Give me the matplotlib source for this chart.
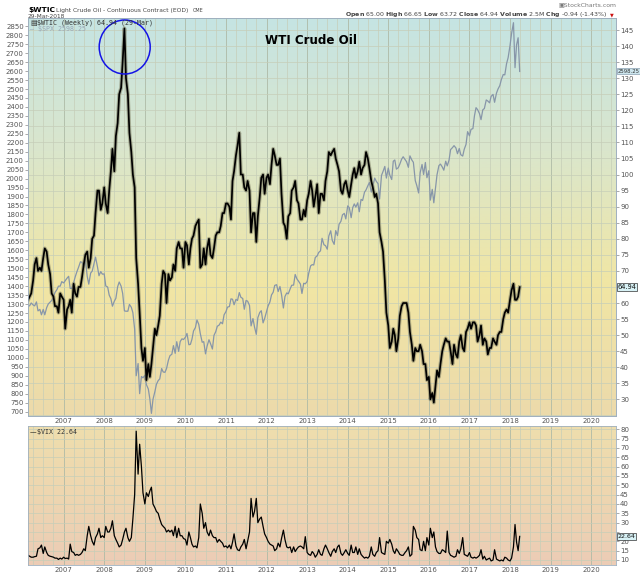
import numpy as np
import pandas as pd
import matplotlib
matplotlib.use('Agg')
import matplotlib.pyplot as plt
import matplotlib.dates as mdates
from matplotlib.colors import LinearSegmentedColormap
from matplotlib.patches import Ellipse
from matplotlib.ticker import FuncFormatter
from matplotlib.transforms import blended_transform_factory

# semi-monthly closes (1st / 15th of month), 15-Feb-2006 .. 29-Mar-2018
wtic = [
    61, 62, 63, 67, 72, 74, 70, 71, 70, 74, 77, 76, 72, 69, 63, 62, 59, 59, 57, 63, 62,  # 2006
    61, 52, 58, 59, 61, 57, 66, 63, 62, 65, 65, 68, 72, 75, 76, 71, 74, 80, 81, 88, 95, 95, 89, 91,  # 2007
    96, 91, 88, 95, 101, 108, 101, 112, 116, 125, 127, 135, 145.5, 130, 125, 113, 107, 100, 96, 74, 66, 57, 46, 42,
    46, 36, 41, 37, 41, 46, 52, 50, 53, 56, 66, 70, 69, 60, 69, 67, 68, 72, 70, 77, 79, 77, 77, 71,
    79, 78, 72, 77, 80, 81, 84, 85, 86, 71, 72, 77, 72, 77, 80, 75, 74, 77, 81, 82, 82, 84, 88, 88,
    91, 91, 90, 86, 98, 101, 106, 109, 113, 100, 100, 96, 95, 98, 95, 82, 88, 88, 79, 87, 93, 99, 100, 94,
    99, 100, 97, 103, 108, 106, 103, 103, 105, 94, 85, 84, 80, 87, 88, 95, 96, 98, 92, 91, 86, 86, 89, 87,
    92, 94, 98, 95, 90, 93, 97, 88, 94, 94, 92, 98, 101, 107, 106, 107, 108, 105, 103, 101, 95, 94, 97, 98,
    95, 93, 97, 100, 102, 99, 101, 104, 100, 102, 103, 107, 105, 102, 98, 96, 93, 94, 91, 82, 79, 76, 67, 57,
    53, 46, 48, 52, 50, 45, 49, 56, 59, 60, 60, 60, 57, 51, 47, 42, 46, 45, 45, 47, 45, 41, 41, 36,
    37, 30, 32, 29, 34, 39, 37, 41, 45, 47, 49, 48, 48, 45, 41, 47, 44, 43, 48, 50, 46, 45, 51, 52,
    54, 52, 54, 54, 53, 48, 50, 53, 47, 49, 48, 44, 46, 46, 49, 48, 47, 50, 51, 51, 55, 57, 58, 57,
    61, 64, 66, 61, 61, 62, 64.94,  # 2018
]

spx = [
    1287, 1291, 1306, 1295, 1290, 1312, 1262, 1270, 1240, 1270, 1240, 1280, 1300, 1311, 1320, 1340, 1365, 1380, 1400, 1400, 1425,
    1418, 1430, 1445, 1455, 1387, 1387, 1420, 1452, 1482, 1505, 1536, 1533, 1503, 1552, 1455, 1411, 1473, 1484, 1527, 1562, 1509, 1458, 1481, 1467,
    1468, 1401, 1395, 1350, 1330, 1288, 1316, 1332, 1397, 1423, 1400, 1360, 1262, 1260, 1260, 1298, 1282, 1252, 1160, 900, 968, 800, 896, 888,
    903, 850, 826, 770, 690, 768, 811, 852, 873, 882, 940, 921, 919, 940, 987, 1012, 1020, 1068, 1025, 1090, 1036, 1091, 1106, 1102,
    1115, 1136, 1073, 1075, 1104, 1150, 1169, 1211, 1187, 1135, 1087, 1090, 1022, 1065, 1101, 1079, 1049, 1125, 1146, 1176, 1183, 1199, 1190, 1240,
    1258, 1283, 1286, 1329, 1327, 1296, 1326, 1320, 1364, 1338, 1331, 1271, 1320, 1316, 1292, 1178, 1219, 1172, 1131, 1224, 1253, 1263, 1195, 1219,
    1258, 1289, 1312, 1351, 1366, 1404, 1408, 1370, 1398, 1353, 1278, 1342, 1362, 1357, 1385, 1405, 1406, 1465, 1440, 1428, 1412, 1359, 1416, 1413,
    1426, 1472, 1513, 1520, 1518, 1560, 1569, 1588, 1597, 1667, 1631, 1626, 1606, 1680, 1709, 1655, 1633, 1710, 1682, 1745, 1762, 1798, 1806, 1775,
    1848, 1838, 1782, 1838, 1859, 1841, 1865, 1815, 1884, 1878, 1924, 1937, 1960, 1978, 1925, 1955, 2003, 1985, 1972, 1886, 2018, 2040, 2068, 2003,
    2059, 2019, 1995, 2097, 2104, 2053, 2061, 2081, 2108, 2122, 2107, 2094, 2063, 2127, 2104, 2091, 1989, 1961, 1920, 2033, 2079, 2023, 2090, 2005,
    2044, 1880, 1940, 1865, 1948, 2022, 2073, 2081, 2065, 2047, 2097, 2071, 2103, 2162, 2173, 2184, 2171, 2139, 2168, 2133, 2126, 2164, 2191, 2262,
    2239, 2275, 2279, 2351, 2396, 2385, 2363, 2329, 2384, 2391, 2439, 2433, 2423, 2459, 2470, 2426, 2477, 2500, 2519, 2553, 2581, 2579, 2642, 2675,
    2743, 2810, 2870, 2619, 2747, 2786, 2598,
]

vix = [
    12.5, 12, 11.5, 11.5, 11.8, 12, 16, 16.5, 18, 13.5, 17, 14, 12.5, 12, 11.8, 11.5, 11, 11, 10.3, 11, 10.5,
    11.5, 10.8, 11, 10.5, 18.5, 14.5, 14, 12.5, 13, 12.5, 13, 14, 16, 15, 23, 28, 23, 20, 18, 22, 24, 27, 22, 23,
    22, 28, 25, 25, 27, 31, 23, 21, 19, 17, 18, 21, 25, 27, 22, 20, 22, 32, 45, 79, 56, 72, 60, 46,
    40, 46, 44, 47, 49, 40, 38, 36, 35, 32, 29, 28, 27, 25, 26, 25, 26, 23, 28, 22, 27, 23, 23, 21.5,
    21, 18, 25, 22, 18.5, 17, 17.5, 16.5, 22, 40, 35, 27, 30, 25, 23, 26, 23, 22, 22, 19.5, 21, 20, 19, 17,
    17.5, 16.5, 18, 16, 19.5, 24, 17.5, 15.5, 15, 17, 18.5, 21, 16, 20, 25, 43, 33, 36, 43, 30, 32, 33, 28, 24,
    22, 20, 18.5, 18, 17.5, 15, 16, 19, 17, 21.5, 26, 21, 17, 16.5, 17, 14, 17, 14.5, 16, 17, 17.5, 17, 16, 22.5,
    14, 13, 12.5, 14.5, 13.5, 11.5, 13, 15.5, 13, 12.5, 16, 18, 16, 14, 12, 14.5, 16, 14, 17, 18, 13.5, 12.5, 14, 15.5,
    13.5, 12.5, 18, 14, 14, 17, 13, 16, 13, 12, 11, 11.5, 11, 12, 17, 13, 12, 14, 15, 22, 14, 13.5, 13, 20,
    19, 21, 18.5, 15, 13.5, 16, 14.5, 13, 12.5, 12.5, 14, 15, 17, 12, 13, 28, 26, 22, 21, 15.5, 15, 20, 15, 22,
    18, 27, 22, 25, 17, 14.5, 13.5, 13.5, 15.5, 15, 14, 25.5, 14, 12.5, 12, 11.5, 12, 15.5, 13.5, 16, 22, 13, 12.5, 12,
    14, 11.5, 11, 11.5, 11, 11.5, 12.5, 15.5, 10.5, 12, 10, 10.5, 11, 9.5, 10, 15.5, 10.5, 10, 9.5, 10, 9.5, 11.5, 11, 10,
    9.5, 11, 17, 29, 19.5, 15, 22.64,
]

dates = [pd.Timestamp(y, m, d) for y in range(2006, 2019) for m in range(1, 13) for d in (1, 15)]
dates = [d for d in dates if pd.Timestamp('2006-02-15') <= d <= pd.Timestamp('2018-03-15')]
dates.append(pd.Timestamp('2018-03-29'))
x = mdates.date2num(dates)

W, H = 640, 576
XLIM = (mdates.date2num(pd.Timestamp('2006-02-14')), mdates.date2num(pd.Timestamp('2020-08-12')))
OIL_LIM = (24.83, 148.74)
SPX_LIM = (675.3, 2896.3)
VIX_LIM = (7.32, 81.77)
TXT = '#555555'
SPINE = '#9fb0bf'


def rect(l, t, r, b):
    return [l / W, 1 - b / H, (r - l) / W, (b - t) / H]


def fx(px):
    return px / W


def fy(py):
    return 1 - py / H


fig = plt.figure(figsize=(6.4, 5.76), dpi=100)
fig.patch.set_facecolor('white')


def backdrop(r, colors, ylim, ystep):
    bg = fig.add_axes(r)
    cmap = LinearSegmentedColormap.from_list('bg', colors)
    bg.imshow(np.linspace(0, 1, 256)[:, None], cmap=cmap, aspect='auto',
              extent=(0, 1, 0, 1), transform=bg.transAxes, zorder=0)
    bg.set_xlim(XLIM)
    bg.set_ylim(ylim)
    bg.set_yticks(np.arange(np.ceil(ylim[0] / ystep) * ystep, ylim[1], ystep))
    bg.xaxis.set_major_locator(mdates.YearLocator())
    bg.xaxis.set_minor_locator(mdates.MonthLocator(bymonth=[4, 7, 10]))
    bg.grid(which='major', axis='x', color='#aebaa6', lw=0.6)
    bg.grid(which='minor', axis='x', color='#c6ceb8', lw=0.5)
    bg.grid(which='major', axis='y', color='#c6ceb8', lw=0.5)
    bg.tick_params(which='both', length=0, labelbottom=False, labelleft=False)
    for s in bg.spines.values():
        s.set_visible(False)
    return bg


def style_axes(ax):
    ax.patch.set_visible(False)
    ax.set_xlim(XLIM)
    ax.xaxis.set_major_locator(mdates.YearLocator())
    ax.xaxis.set_major_formatter(mdates.DateFormatter('%Y'))
    ax.tick_params(axis='x', labelsize=5, length=0, pad=1.5, labelcolor=TXT)
    ax.tick_params(axis='y', labelsize=5, length=2, width=0.5, pad=1, labelcolor=TXT, color='#888888')
    for s in ax.spines.values():
        s.set_color(SPINE)
        s.set_linewidth(0.6)


def skip_labels(hidden):
    # tick labels that sit under a price tag are left blank, as on the original chart
    return FuncFormatter(lambda v, pos: '' if any(abs(v - h) < 1e-6 for h in hidden) else f'{v:g}')


def tag(axis_obj, yval, label, fc, ec, color, size=4.8):
    tr = blended_transform_factory(axis_obj.transAxes, axis_obj.transData)
    axis_obj.text(1.003, yval, label, transform=tr, ha='left', va='center', fontsize=size,
                  color=color, clip_on=False, zorder=10,
                  bbox=dict(boxstyle='square,pad=0.1', fc=fc, ec=ec, lw=0.5))


# ---- top panel: oil + S&P 500
r_top = rect(28, 18, 616, 416)
backdrop(r_top, ['#c5e4e3', '#dae6cc', '#f1e6a4', '#ecdaab'], OIL_LIM, 5)

ax = fig.add_axes(r_top)
style_axes(ax)
ax.plot(x, spx, color='#8796a9', lw=0.9)
ax.set_ylim(SPX_LIM)
ax.set_yticks(np.arange(700, 2851, 50))

ax2 = ax.twinx()
ax2.plot(x, wtic, color='#7d7d62', lw=2.8, alpha=0.55)
ax2.plot(x, wtic, color='black', lw=1.25)
ax2.set_ylim(OIL_LIM)
ax2.set_yticks(np.arange(30, 146, 5))
ax2.yaxis.set_major_formatter(skip_labels([65]))
style_axes(ax2)

tag(ax2, wtic[-1], f'{wtic[-1]:.2f}', '#d8f2f6', '#333333', '#111111')
tag(ax, spx[-1], '2598.25', '#cde6ee', '#8aa0b0', '#333333', size=3.9)

fig.text(fx(30), fy(23), '\u25a4', fontsize=5, color='#333333', va='center')
fig.text(fx(37), fy(23), '\\$WTIC (Weekly) 64.94 (29-Mar)', fontsize=4.8, family='DejaVu Sans Mono',
         color='#333333', va='center')
fig.text(fx(30), fy(29.5), '\u2014 \\$SPX 2598.25', fontsize=4.8, family='DejaVu Sans Mono',
         color='#9aa8b6', va='center')
fig.text(fx(311), fy(40), 'WTI Crude Oil', fontsize=8.6, fontweight='bold', ha='center', va='center',
         color='black')
fig.add_artist(Ellipse((fx(124.7), fy(47)), 51 / W, 54 / H, transform=fig.transFigure,
                       fill=False, ec='#1414e6', lw=1.1))

# ---- bottom panel: VIX
r_bot = rect(28, 426, 616, 565)
backdrop(r_bot, ['#efdead', '#eed6b0', '#ecccb6'], VIX_LIM, 5)
axv = fig.add_axes(r_bot)
style_axes(axv)
axv.plot(x, vix, color='black', lw=0.9)
axv.set_ylim(VIX_LIM)
axv.yaxis.tick_right()
axv.set_yticks(np.arange(10, 81, 5))
axv.yaxis.set_major_formatter(skip_labels([25]))
axv.tick_params(axis='y', labelsize=5, length=2, width=0.5, pad=1, labelcolor=TXT, color='#888888')
tag(axv, vix[-1], f'{vix[-1]:.2f}', '#d8f2f6', '#333333', '#111111', size=4.5)
fig.text(fx(30), fy(432), '\u2014', fontsize=4.8, color='black', va='center')
fig.text(fx(37), fy(432), '\\$VIX 22.64', fontsize=4.8, family='DejaVu Sans Mono', color='#333333',
         va='center')

# ---- header
fig.text(fx(28), fy(12), '\\$WTIC', fontsize=5.4, fontweight='bold', color='black', va='baseline')
fig.text(fx(56), fy(12), 'Light Crude Oil - Continuous Contract (EOD)', fontsize=4.35, color='#444444',
         va='baseline')
fig.text(fx(193), fy(12), 'CME', fontsize=3.5, color='#444444', va='baseline')
fig.text(fx(28), fy(17.5), '29-Mar-2018', fontsize=4.2, color='#444444', va='baseline')
fig.text(fx(616), fy(5), '\u25a3StockCharts.com', fontsize=4.4, color='#777777', ha='right', va='center')
fig.text(fx(608), fy(14.5),
         r'$\mathbf{Open}$ 65.00 $\mathbf{High}$ 66.65 $\mathbf{Low}$ 63.72 $\mathbf{Close}$ 64.94 '
         r'$\mathbf{Volume}$ 2.5M $\mathbf{Chg}$ -0.94 (-1.43%)',
         fontsize=4.5, color='#444444', ha='right', va='center')
fig.text(fx(612), fy(14.5), '\u25bc', fontsize=3.5, color='#cc1111', ha='center', va='center')

fig.savefig('out.png', dpi=100)
